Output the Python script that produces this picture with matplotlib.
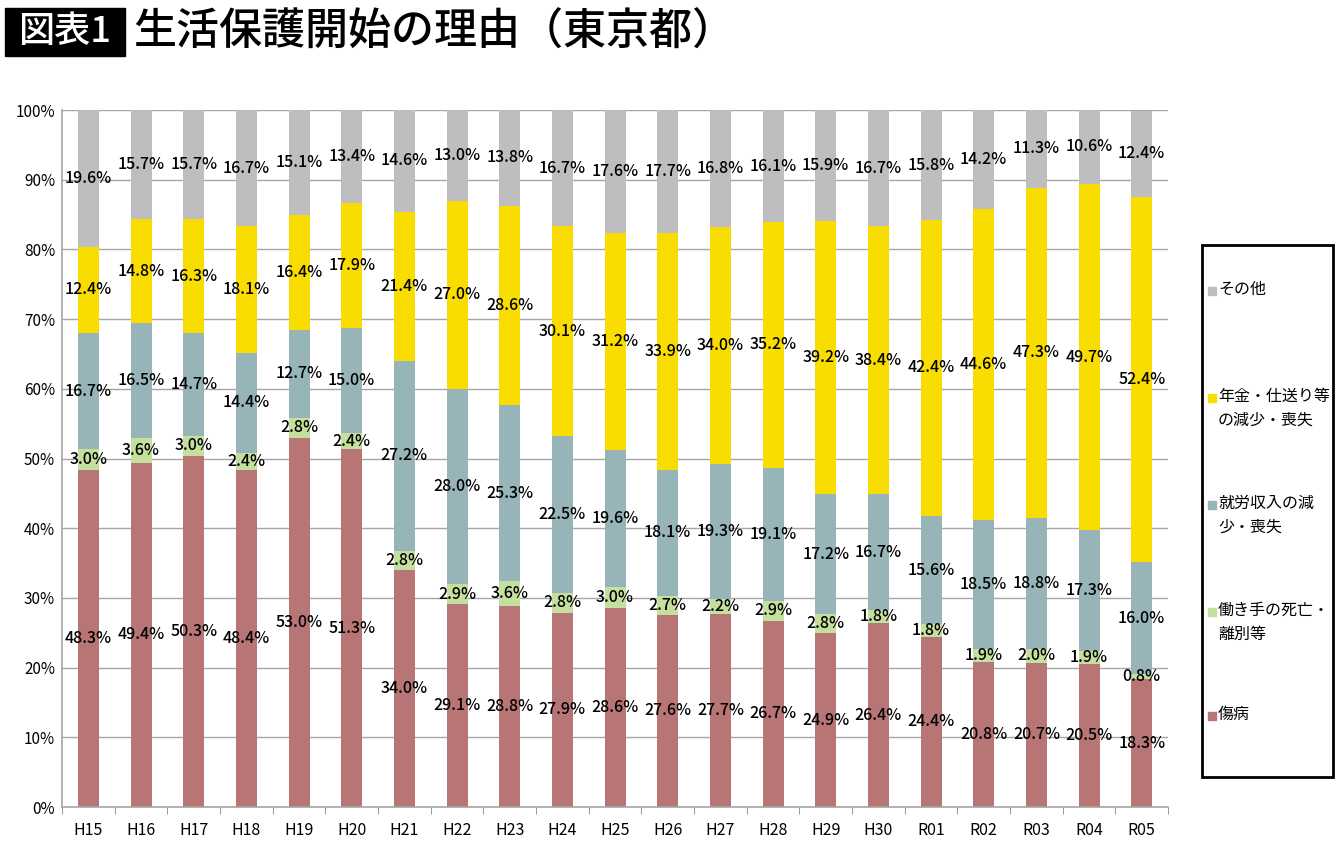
import numpy as np
import matplotlib.pyplot as plt
from matplotlib.patches import Rectangle

plt.rcParams['font.family'] = ['Noto Sans CJK JP', 'DejaVu Sans']

# data (percent)
years = ["H15", "H16", "H17", "H18", "H19", "H20", "H21", "H22", "H23", "H24", "H25",
         "H26", "H27", "H28", "H29", "H30", "R01", "R02", "R03", "R04", "R05"]
illness = [48.3, 49.4, 50.3, 48.4, 53.0, 51.3, 34.0, 29.1, 28.8, 27.9, 28.6,
           27.6, 27.7, 26.7, 24.9, 26.4, 24.4, 20.8, 20.7, 20.5, 18.3]
earner_loss = [3.0, 3.6, 3.0, 2.4, 2.8, 2.4, 2.8, 2.9, 3.6, 2.8, 3.0,
               2.7, 2.2, 2.9, 2.8, 1.8, 1.8, 1.9, 2.0, 1.9, 0.8]
work_income = [16.7, 16.5, 14.7, 14.4, 12.7, 15.0, 27.2, 28.0, 25.3, 22.5, 19.6,
               18.1, 19.3, 19.1, 17.2, 16.7, 15.6, 18.5, 18.8, 17.3, 16.0]
pension = [12.4, 14.8, 16.3, 18.1, 16.4, 17.9, 21.4, 27.0, 28.6, 30.1, 31.2,
           33.9, 34.0, 35.2, 39.2, 38.4, 42.4, 44.6, 47.3, 49.7, 52.4]
other = [19.6, 15.7, 15.7, 16.7, 15.1, 13.4, 14.6, 13.0, 13.8, 16.7, 17.6,
         17.7, 16.8, 16.1, 15.9, 16.7, 15.8, 14.2, 11.3, 10.6, 12.4]

series = [illness, earner_loss, work_income, pension, other]
names = ["傷病", "働き手の死亡・\n離別等", "就労収入の減\n少・喪失", "年金・仕送り等\nの減少・喪失", "その他"]
colors = ["#B87576", "#C4DF9E", "#97B5B8", "#FADD00", "#BEBEC0"]

fig = plt.figure(figsize=(13.4, 8.51), dpi=100)
ax = fig.add_axes([0.0463, 0.0517, 0.8254, 0.819])

x = np.arange(len(years))
bottom = np.zeros(len(years))
for vals, col in zip(series, colors):
    vals = np.array(vals)
    ax.bar(x, vals, width=0.4, bottom=bottom, color=col, zorder=2)
    for xi, b, v in zip(x, bottom, vals):
        ax.text(xi, b + v / 2, f"{v:.1f}%", ha="center", va="center",
                fontsize=11.5, fontweight="medium", color="black", zorder=3)
    bottom += vals

ax.set_xlim(-0.5, len(years) - 0.5)
ax.set_ylim(0, 100)
ax.set_yticks(np.arange(0, 101, 10))
ax.set_yticklabels([f"{v}%" for v in range(0, 101, 10)], fontsize=11)
ax.set_xticks(x)
ax.set_xticklabels(years, fontsize=11.5)
ax.set_xticks(np.arange(-0.5, len(years), 1), minor=True)
ax.tick_params(axis="x", which="major", length=0, pad=11)
ax.tick_params(axis="x", which="minor", length=5, color="#888888")
ax.tick_params(axis="y", length=0, pad=5)
ax.yaxis.grid(True, color="#A6A6A6", linewidth=1.0, zorder=0)
for s in ["top", "right"]:
    ax.spines[s].set_visible(False)
ax.spines["left"].set_color("#A6A6A6")
ax.spines["bottom"].set_color("#A6A6A6")
ax.spines["left"].set_linewidth(1.2)
ax.spines["bottom"].set_linewidth(1.2)

# legend box drawn by hand
W, H = 1340, 851
fig.patches.append(Rectangle((1202 / W, 1 - 777 / H), 131 / W, 532 / H,
                             transform=fig.transFigure, fill=False,
                             edgecolor="black", linewidth=2))
leg_y = [716, 622, 515, 408, 291]
for name, col, yy in zip(names, colors, leg_y):
    first_line = yy - (10 if "\n" in name else 0)
    fig.patches.append(Rectangle((1208 / W, 1 - (first_line + 4) / H), 8 / W, 8 / H,
                                 transform=fig.transFigure, color=col))
    fig.text(1218 / W, 1 - (first_line - 10) / H, name, ha="left", va="top",
             fontsize=11.5, linespacing=1.5)

# title
fig.patches.append(Rectangle((5 / W, 1 - 56 / H), 120 / W, 48 / H,
                             transform=fig.transFigure, color="black"))
fig.text(65 / W, 1 - 32 / H, "図表1", ha="center", va="center", color="white",
         fontsize=26, fontweight="medium")
fig.text(133 / W, 1 - 32 / H, "生活保護開始の理由（東京都）", ha="left", va="center",
         color="black", fontsize=31, fontweight="medium")

fig.savefig("out.png", dpi=100)
